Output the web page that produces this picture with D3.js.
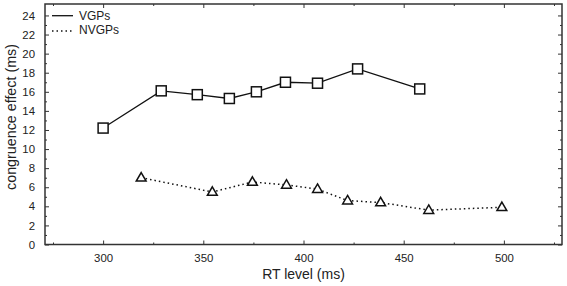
<!DOCTYPE html>
<html>
<head>
<meta charset="utf-8">
<script src="https://cdn.jsdelivr.net/npm/d3@7"></script>
<style>
  body { margin: 0; background: #fff; }
  svg { font-family: "Liberation Sans", Arial, sans-serif; }
</style>
</head>
<body>
<div id="chart"></div>
<script>
// dados
const vgpRT = [300, 329, 347, 363, 376.5, 391, 407, 427, 458];
const vgpEffect = [12.2, 16.1, 15.7, 15.3, 16.0, 17.0, 16.9, 18.4, 16.3];
const nvgpRT = [319, 354.5, 374.5, 391.5, 407, 422, 438.5, 462.5, 499];
const nvgpEffect = [7.0, 5.5, 6.55, 6.25, 5.8, 4.6, 4.4, 3.6, 3.9];
const xTicks = [300, 350, 400, 450, 500];
const yTicks = [0, 2, 4, 6, 8, 10, 12, 14, 16, 18, 20, 22, 24];
const seriesNames = ["VGPs", "NVGPs"];

const W = 567, H = 286;
const pLeft = 45, pRight = 562, pTop = 4, pBottom = 244.5;

const svg = d3.select("#chart").append("svg")
    .attr("width", W).attr("height", H);

const x = d3.scaleLinear().domain([271, 529]).range([pLeft, pRight]);
const y = d3.scaleLinear().domain([0, 25.2]).range([pBottom, pTop]);

const axisColor = "#333";

// eixos com ticks para dentro, espelhados
function styleAxis(g) {
    g.select(".domain").remove();
    g.selectAll("line").attr("stroke", axisColor).attr("stroke-width", 1);
    g.selectAll("text").attr("fill", "#222").style("font-size", "11.4px");
}
const xMinor = d3.range(275, 530, 25).filter(v => v % 50 !== 0);
const yMinor = d3.range(1, 25, 2);

svg.append("g").attr("transform", `translate(0,${pBottom})`)
    .call(d3.axisBottom(x).tickValues(xTicks).tickSize(-4).tickPadding(9).tickFormat(d3.format("d")))
    .call(styleAxis);
svg.append("g").attr("transform", `translate(0,${pBottom})`)
    .call(d3.axisBottom(x).tickValues(xMinor).tickSize(-2).tickFormat(""))
    .call(styleAxis);
svg.append("g").attr("transform", `translate(0,${pTop})`)
    .call(d3.axisTop(x).tickValues(xTicks).tickSize(-4).tickFormat(""))
    .call(styleAxis);
svg.append("g").attr("transform", `translate(0,${pTop})`)
    .call(d3.axisTop(x).tickValues(xMinor).tickSize(-2).tickFormat(""))
    .call(styleAxis);
svg.append("g").attr("transform", `translate(${pLeft},0)`)
    .call(d3.axisLeft(y).tickValues(yTicks).tickSize(-4).tickPadding(10))
    .call(styleAxis);
svg.append("g").attr("transform", `translate(${pLeft},0)`)
    .call(d3.axisLeft(y).tickValues(yMinor).tickSize(-2).tickFormat(""))
    .call(styleAxis);
svg.append("g").attr("transform", `translate(${pRight},0)`)
    .call(d3.axisRight(y).tickValues(yTicks).tickSize(-4).tickFormat(""))
    .call(styleAxis);
svg.append("g").attr("transform", `translate(${pRight},0)`)
    .call(d3.axisRight(y).tickValues(yMinor).tickSize(-2).tickFormat(""))
    .call(styleAxis);

// moldura
svg.append("rect")
    .attr("x", pLeft).attr("y", pTop)
    .attr("width", pRight - pLeft).attr("height", pBottom - pTop)
    .attr("fill", "none").attr("stroke", axisColor).attr("stroke-width", 1.5);

// linhas
const vgp = vgpRT.map((v, i) => [v, vgpEffect[i]]);
const nvgp = nvgpRT.map((v, i) => [v, nvgpEffect[i]]);
const line = d3.line().x(d => x(d[0])).y(d => y(d[1]));

svg.append("path").datum(vgp).attr("d", line)
    .attr("fill", "none").attr("stroke", "#111").attr("stroke-width", 1.3);
svg.append("path").datum(nvgp).attr("d", line)
    .attr("fill", "none").attr("stroke", "#111").attr("stroke-width", 1.5)
    .attr("stroke-dasharray", "1.5,3");

// marcadores
svg.selectAll(".sq").data(vgp).enter().append("rect")
    .attr("x", d => x(d[0]) - 5).attr("y", d => y(d[1]) - 5)
    .attr("width", 10).attr("height", 10)
    .attr("fill", "#fff").attr("stroke", "#111").attr("stroke-width", 1.5);

const tri = d3.symbol().type(d3.symbolTriangle).size(42);
svg.selectAll(".tri").data(nvgp).enter().append("path")
    .attr("d", tri)
    .attr("transform", d => `translate(${x(d[0])},${y(d[1]) + 0.5})`)
    .attr("fill", "#fff").attr("stroke", "#111").attr("stroke-width", 1.5);

// legenda
const legend = svg.append("g");
legend.append("line").attr("x1", 52).attr("x2", 73).attr("y1", 15.7).attr("y2", 15.7)
    .attr("stroke", "#111").attr("stroke-width", 1.3);
legend.append("line").attr("x1", 52).attr("x2", 73).attr("y1", 31).attr("y2", 31)
    .attr("stroke", "#111").attr("stroke-width", 1.5).attr("stroke-dasharray", "1.5,3");
legend.selectAll("text").data(seriesNames).enter().append("text")
    .attr("x", 79).attr("y", (d, i) => 20 + i * 14)
    .style("font-size", "12px").attr("fill", "#222")
    .text(d => d);

// títulos dos eixos
svg.append("text")
    .attr("x", 303.5).attr("y", 279)
    .attr("text-anchor", "middle")
    .style("font-size", "14px").attr("fill", "#222")
    .text("RT level (ms)");
svg.append("text")
    .attr("transform", "translate(16,117) rotate(-90)")
    .attr("text-anchor", "middle")
    .style("font-size", "14.3px").attr("fill", "#222")
    .text("congruence effect (ms)");
</script>
</body>
</html>
